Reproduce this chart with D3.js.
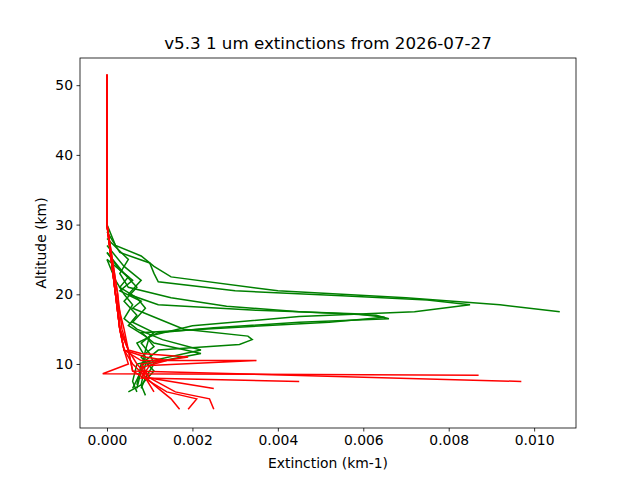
<!DOCTYPE html>
<html><head><meta charset="utf-8">
<script src="https://cdn.jsdelivr.net/npm/d3@7"></script>
<style>body{margin:0;background:#fff}text{font-family:"DejaVu Sans",sans-serif}</style>
</head><body><svg id="c" width="640" height="480"></svg>
<script>
const title = "v5.3 1 um extinctions from 2026-07-27";
const xTicks = [0,0.002,0.004,0.006,0.008,0.010];
const yTicks = [10,20,30,40,50];
// each profile: [altitude km, extinction km-1]
const greenProfiles = [
 [[30,0],[27,0.0002],[25.5,0.0008],[24,0.0011],[22.5,0.0015],[20.5,0.004],[19.5,0.007],[18.5,0.0092],[17.5,0.0106]],
 [[29,0],[26,0.0003],[24.5,0.001],[23,0.0011],[21.8,0.0012],[20.5,0.003],[19.8,0.0055],[19.2,0.0075],[18.5,0.0085],[17.5,0.0072],[16.8,0.0045],[15.5,0.002],[14,0.001],[12,0.0009],[9,0.0008],[6.5,0.0007]],
 [[28,0],[25,0.0005],[23,0.0003],[21,0.0005],[19.5,0.0015],[18.3,0.0028],[17.5,0.0045],[17,0.0063],[16.5,0.0066],[16,0.0045],[15.2,0.0025],[14.5,0.0012],[13,0.0007],[11,0.0009],[9,0.0008],[6.5,0.0006]],
 [[27,0],[24,0.0004],[22,0.0008],[20,0.0005],[18.5,0.0012],[17.7,0.0035],[17.2,0.0058],[16.7,0.0065],[16,0.0052],[14.5,0.0008],[13,0.0011],[11.5,0.0022],[10,0.0009],[7,0.0008],[5.5,0.0009]],
 [[26,0],[23.5,0.0003],[22,0.0006],[20.5,0.0003],[19,0.0008],[18,0.0006],[16.5,0.0012],[15,0.0018],[14,0.0033],[13.5,0.0034],[12.8,0.0031],[12,0.0012],[10,0.0008],[7,0.0007]],
 [[25,0],[22,0.0002],[20,0.0004],[18.5,0.0006],[16.5,0.0004],[15,0.0007],[13.5,0.0013],[12,0.0022],[10,0.0007],[7.5,0.0006],[6,0.0007]],
 [[26,0],[23,0.0004],[21,0.0007],[19,0.0004],[17,0.0007],[15.5,0.0005],[14,0.0009],[12.5,0.0011],[11,0.0008],[9,0.0011],[7,0.0008],[6,0.0005]],
 [[25,0],[22.5,0.0005],[21,0.0003],[19.5,0.0007],[18,0.0009],[16,0.0006],[14.5,0.0011],[13,0.0008],[11.5,0.0010],[10,0.0011],[8,0.0009],[6.5,0.0008]]
];
const redProfiles = [
 [[51.5,0],[30,0],[20,0.0002],[15,0.0003],[12,0.0004],[10,0.0005],[8.6,-0.0001],[8.4,0.0087]],
 [[51.5,0],[30,0],[20,0.00025],[15,0.00035],[12,0.0005],[9,0.0006],[7.5,0.0097]],
 [[51.5,0],[30,0],[20,0.0002],[15,0.0003],[12,0.0004],[10.5,0.0008],[10.5,0.0035],[9.8,0.001],[8,0.0008],[7.5,0.0045]],
 [[51.5,0],[30,0],[20,0.0002],[15,0.0004],[12,0.0005],[11.5,0.0008],[11,0.0019],[10,0.0008],[8,0.0010],[6.5,0.0025]],
 [[51.5,0],[30,0],[20,0.0002],[15,0.0003],[12,0.0005],[10,0.0007],[8,0.001],[6,0.0016],[5,0.0024],[3.5,0.0025]],
 [[51.5,0],[30,0],[20,0.0002],[15,0.0003],[12,0.0004],[10,0.0006],[7,0.0011],[5,0.0015],[3.5,0.0017]],
 [[51.5,0],[30,0],[20,0.00025],[15,0.0003],[12,0.0005],[9,0.0006],[6,0.0014],[5,0.0021],[3.5,0.0019]],
 [[51.5,0],[30,0],[20,0.0002],[15,0.0003],[12,0.0004],[11,0.0009],[10.5,0.0014],[9.5,0.0008],[8,0.0009],[6,0.0011]]
];
const svg = d3.select("#c");
const m = {l:80,r:576,t:58,b:428};
const x = d3.scaleLinear().domain([-0.000632,0.01098]).range([m.l,m.r]);
const y = d3.scaleLinear().domain([0.82,53.9]).range([m.b,m.t]);
const line = d3.line().x(d=>x(d[1])).y(d=>y(d[0]));
const g = svg.append("g");
g.selectAll(".gp").data(greenProfiles).enter().append("path").attr("d",line)
 .attr("fill","none").attr("stroke","green").attr("stroke-width",1.5);
g.selectAll(".rp").data(redProfiles).enter().append("path").attr("d",line)
 .attr("fill","none").attr("stroke","red").attr("stroke-width",1.5);
svg.append("rect").attr("x",m.l).attr("y",m.t).attr("width",m.r-m.l).attr("height",m.b-m.t)
 .attr("fill","none").attr("stroke","#000").attr("stroke-width",0.8);
const xa = svg.append("g").attr("transform",`translate(0,${m.b})`)
 .call(d3.axisBottom(x).tickValues(xTicks).tickFormat(d3.format(".3f")).tickSizeOuter(0).tickSize(3.5).tickPadding(3.5));
const ya = svg.append("g").attr("transform",`translate(${m.l},0)`)
 .call(d3.axisLeft(y).tickValues(yTicks).tickFormat(d3.format("d")).tickSizeOuter(0).tickSize(3.5).tickPadding(3.5));
[xa,ya].forEach(a=>{a.select(".domain").remove();a.selectAll("text").attr("font-size",13.9).attr("fill","#000").attr("font-family","DejaVu Sans");a.selectAll("line").attr("stroke","#000").attr("stroke-width",0.8);});
svg.append("text").attr("x",(m.l+m.r)/2).attr("y",49).attr("text-anchor","middle").attr("font-size",16.7).text(title);
svg.append("text").attr("x",(m.l+m.r)/2).attr("y",468).attr("text-anchor","middle").attr("font-size",13.9).text("Extinction (km-1)");
svg.append("text").attr("transform",`translate(46,${(m.t+m.b)/2}) rotate(-90)`).attr("text-anchor","middle").attr("font-size",13.9).text("Altitude (km)");
</script></body></html>
